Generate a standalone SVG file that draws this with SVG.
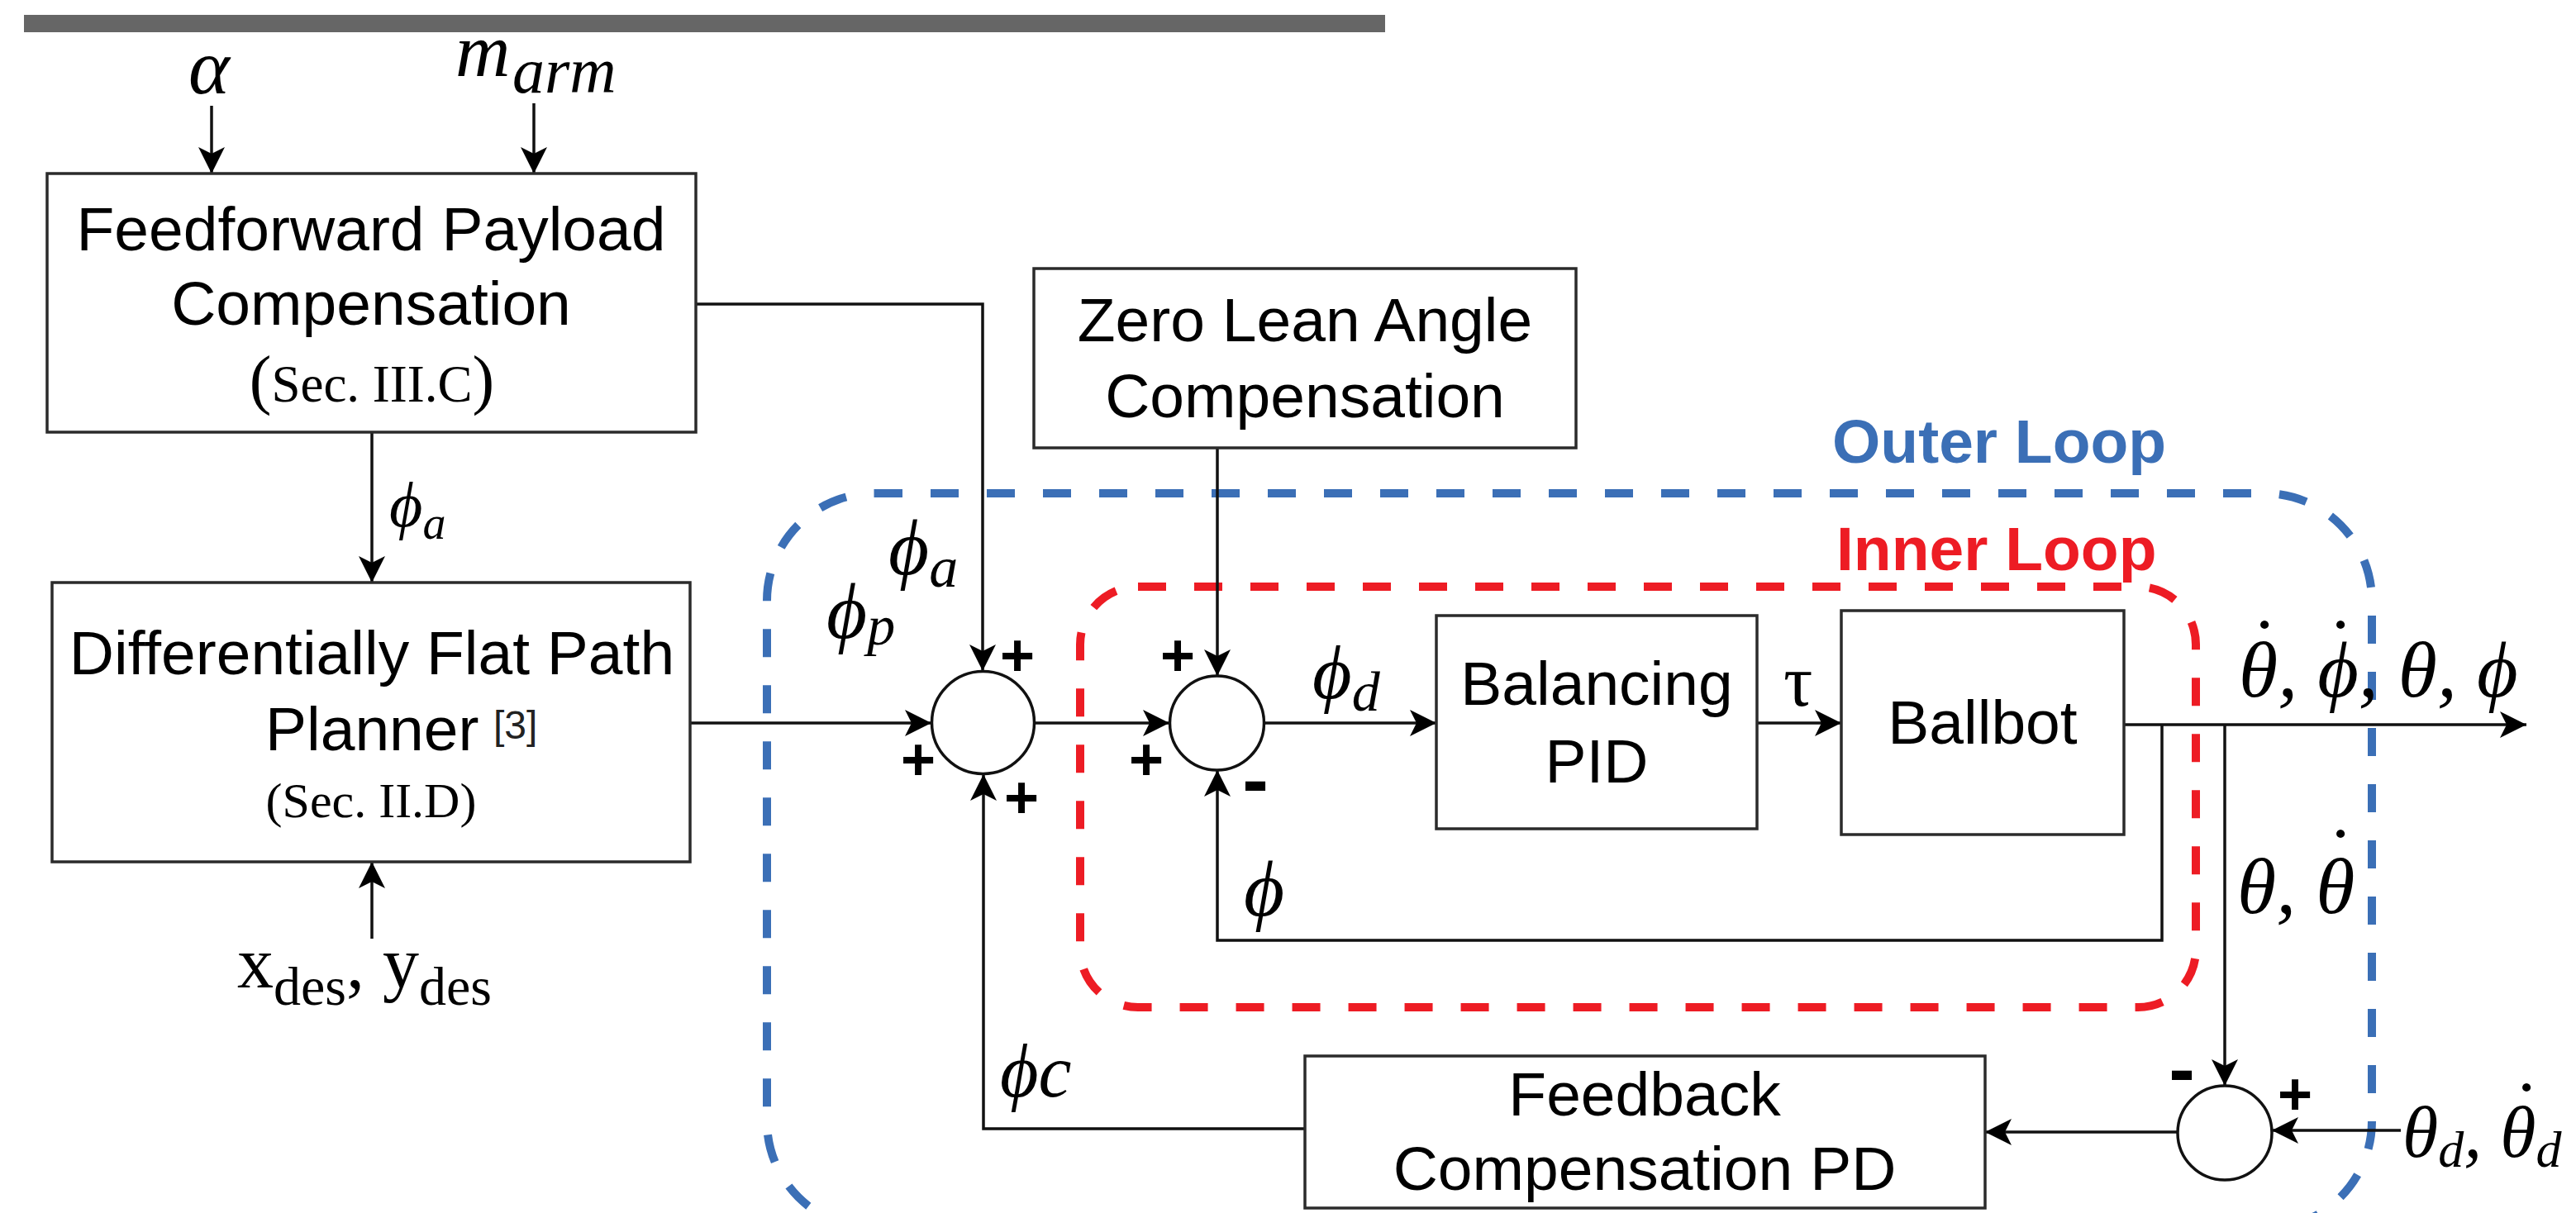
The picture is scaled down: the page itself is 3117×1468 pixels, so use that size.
<svg xmlns="http://www.w3.org/2000/svg" width="3117" height="1468" viewBox="0 0 3117 1468">
<style>
.box{fill:#fff;stroke:#2b2b2b;stroke-width:3.5}
.sum{fill:#fff;stroke:#111;stroke-width:3.5}
.wire{fill:none;stroke:#111;stroke-width:3.5}
.lbl{font-family:"Liberation Sans",Arial,sans-serif;font-size:75px;fill:#000;text-anchor:middle}
.sec{font-family:"Liberation Serif","Times New Roman",serif;fill:#000;text-anchor:middle}
.math{font-family:"Liberation Serif","Times New Roman",serif;font-style:italic;fill:#000}
.up{font-family:"Liberation Serif","Times New Roman",serif;fill:#000}
.dot{font-style:normal;font-size:96px;text-anchor:middle}
.sign{font-family:"Liberation Sans",Arial,sans-serif;font-weight:bold;fill:#000;text-anchor:middle}
.loop{fill:none;stroke-width:10;stroke-dasharray:34 34}
.looplbl{font-family:"Liberation Sans",Arial,sans-serif;font-weight:bold;font-size:75px}
</style>
<defs>
<marker id="arr" markerUnits="userSpaceOnUse" markerWidth="34" markerHeight="34" refX="32" refY="16" orient="auto">
<path d="M0,0 L32,16 L0,32 L8,16 Z" fill="#000"/>
</marker>
</defs>
<rect x="29" y="18" width="1647" height="21" fill="#666"/>

<g id="loops">
<rect id="outer-loop" class="loop" x="928" y="597" width="1942" height="890" rx="130" ry="130" stroke="#3b6fb6"/>
<rect id="inner-loop" class="loop" x="1307" y="710" width="1350" height="509" rx="70" ry="70" stroke="#ed1c24"/>
<text class="looplbl" x="2217" y="560" fill="#3b6fb6">Outer Loop</text>
<text class="looplbl" x="2222" y="690" fill="#ed1c24">Inner Loop</text>
</g>

<g id="connectors">
<path class="wire" d="M256 128 V210" marker-end="url(#arr)"/>
<path class="wire" d="M646 125 V210" marker-end="url(#arr)"/>
<path class="wire" d="M450 523 V705" marker-end="url(#arr)"/>
<path class="wire" d="M450 1136 V1043" marker-end="url(#arr)"/>
<path class="wire" d="M842 368 H1189 V812" marker-end="url(#arr)"/>
<path class="wire" d="M835 875 H1127" marker-end="url(#arr)"/>
<path class="wire" d="M1252 875 H1415" marker-end="url(#arr)"/>
<path class="wire" d="M1473 542 V818" marker-end="url(#arr)"/>
<path class="wire" d="M1530 875 H1738" marker-end="url(#arr)"/>
<path class="wire" d="M2126 875 H2228" marker-end="url(#arr)"/>
<path class="wire" d="M2570 877 H3057" marker-end="url(#arr)"/>
<path class="wire" d="M2616 877 V1138 H1473 V932" marker-end="url(#arr)"/>
<path class="wire" d="M2692 877 V1314" marker-end="url(#arr)"/>
<path class="wire" d="M2635 1370 H2402" marker-end="url(#arr)"/>
<path class="wire" d="M2905 1368 H2749" marker-end="url(#arr)"/>
<path class="wire" d="M1579 1366 H1190 V937" marker-end="url(#arr)"/>
</g>

<g id="ff-box">
<rect class="box" x="57" y="210" width="785" height="313"/>
<text class="lbl" x="449" y="303">Feedforward Payload</text>
<text class="lbl" x="449" y="393">Compensation</text>
<text class="sec" x="450" y="486" font-size="63"><tspan font-size="80">(</tspan>Sec. III.C<tspan font-size="80">)</tspan></text>
</g>

<g id="df-box">
<rect class="box" x="63" y="705" width="772" height="338"/>
<text class="lbl" x="450" y="816">Differentially Flat Path</text>
<text class="lbl" x="321" y="908" style="text-anchor:start">Planner</text>
<text x="597" y="894" font-family="Liberation Sans, Arial, sans-serif" font-size="48" fill="#222">[3]</text>
<text class="sec" x="449" y="989" font-size="60">(Sec. II.D)</text>
</g>

<g id="zl-box">
<rect class="box" x="1251" y="325" width="656" height="217"/>
<text class="lbl" x="1579" y="413">Zero Lean Angle</text>
<text class="lbl" x="1579" y="505">Compensation</text>
</g>

<g id="pid-box">
<rect class="box" x="1738" y="745" width="388" height="258"/>
<text class="lbl" x="1932" y="853">Balancing</text>
<text class="lbl" x="1932" y="947">PID</text>
</g>

<g id="ballbot-box">
<rect class="box" x="2228" y="739" width="342" height="271"/>
<text class="lbl" x="2399" y="900">Ballbot</text>
</g>

<g id="fb-box">
<rect class="box" x="1579" y="1278" width="823" height="184"/>
<text class="lbl" x="1990" y="1350">Feedback</text>
<text class="lbl" x="1990" y="1440">Compensation PD</text>
</g>

<g id="sum1">
<circle class="sum" cx="1189.5" cy="874.5" r="62"/>
<text class="sign" x="1231" y="818" font-size="72">+</text>
<text class="sign" x="1111" y="944" font-size="72">+</text>
<text class="sign" x="1236" y="990" font-size="72">+</text>
</g>
<g id="sum2">
<circle class="sum" cx="1472.5" cy="875" r="57"/>
<text class="sign" x="1425" y="818" font-size="72">+</text>
<text class="sign" x="1387" y="944" font-size="72">+</text>
<text class="sign" x="1519" y="976" font-size="95">-</text>
</g>
<g id="sum3">
<circle class="sum" cx="2692" cy="1371" r="57"/>
<text class="sign" x="2640" y="1326" font-size="95">-</text>
<text class="sign" x="2777" y="1349" font-size="72">+</text>
</g>

<g id="labels">
<text class="math" x="228" y="113" font-size="95">α</text>
<text class="math" x="551" y="92" font-size="92">m</text>
<text class="math" x="620" y="112" font-size="78">arm</text>
<text class="math" x="471" y="637" font-size="78">ϕ<tspan font-size="56" dy="15">a</tspan></text>
<text class="math" x="1075" y="695" font-size="95">ϕ<tspan font-size="70" dy="15">a</tspan></text>
<text class="math" x="1000" y="772" font-size="95">ϕ<tspan font-size="68" dy="8">p</tspan></text>
<text class="math" x="1588" y="845" font-size="92">ϕ<tspan font-size="68" dy="15">d</tspan></text>
<text class="up" x="2158" y="854" font-size="88">τ</text>
<text class="math" x="1505" y="1108" font-size="95">ϕ</text>
<text class="math" x="1210" y="1327" font-size="90">ϕc</text>
<text class="math" x="2709" y="843" font-size="96">θ, ϕ, θ, ϕ<tspan class="dot" x="2740" y="814">˙</tspan><tspan class="dot" x="2832" y="814">˙</tspan></text>
<text class="math" x="2707" y="1105" font-size="96">θ, θ<tspan class="dot" x="2832" y="1067">˙</tspan></text>
<text class="math" x="2907" y="1400" font-size="88">θ<tspan font-size="62" dy="12">d</tspan><tspan dy="-12">, θ</tspan><tspan font-size="62" dy="12">d</tspan><tspan class="dot" x="3057" y="1374">˙</tspan></text>
<text class="up" x="287" y="1195" font-size="88">x<tspan font-size="66" dy="21">des</tspan><tspan dy="-21">, y</tspan><tspan font-size="66" dy="21">des</tspan></text>
</g>
</svg>
